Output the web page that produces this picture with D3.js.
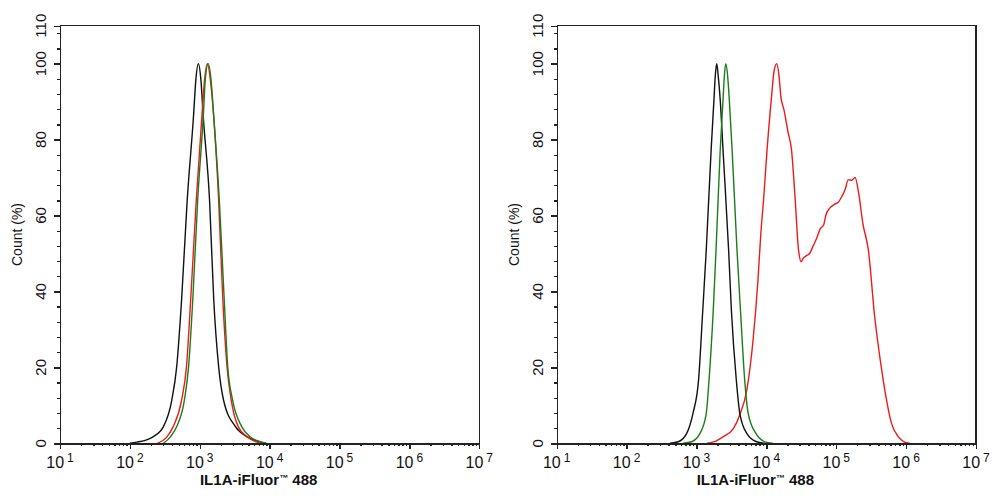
<!DOCTYPE html>
<html>
<head>
<meta charset="utf-8">
<script src="https://cdn.jsdelivr.net/npm/d3@7"></script>
<style>
  body { margin: 0; background: #fff; }
  svg  { display: block; font-family: 'Liberation Sans', Arial, sans-serif; }
  .axis path, .axis line { stroke: #222; stroke-width: 1.4; shape-rendering: crispEdges; }
</style>
</head>
<body>
<div id="graph"></div>
<script>
// Histogram values: log10 of intensity, and count in %
var leftBlackLog  = [ 2.00, 2.10, 2.24, 2.33, 2.48, 2.60, 2.67, 2.74, 2.82, 2.91, 2.945, 2.98, 3.015, 3.05, 3.14, 3.20, 3.27, 3.34, 3.51, 3.68, 3.87, 3.95 ];
var leftBlackPct  = [ 0,    0.3,  0.9,  1.7,  4.4,  11.4, 20.2, 37.8, 64,   86,   96,    100,  96,    86,   64,   37.8, 20.2, 11.4, 4.4,  1.7,  0.3,  0 ];

var leftRedLog    = [ 2.39, 2.53, 2.62, 2.74, 2.81, 2.87, 2.95, 3.03, 3.07, 3.11, 3.15, 3.20, 3.27, 3.33, 3.39, 3.45, 3.55, 3.68, 3.82, 3.89 ];
var leftRedPct    = [ 0,    1.7,  4.4,  11.4, 20.2, 37.8, 64,   86,   96,   100,  96,   86,   64,   37.8, 20.2, 11.4, 4.4,  1.7,  0.3,  0 ];

var leftGreenLog  = [ 2.48, 2.58, 2.67, 2.78, 2.84, 2.90, 2.97, 3.05, 3.08, 3.12, 3.16, 3.20, 3.28, 3.35, 3.40, 3.47, 3.60, 3.72, 3.89, 3.95 ];
var leftGreenPct  = [ 0,    1.7,  4.4,  11.4, 20.2, 37.8, 64,   86,   96,   100,  96,   86,   64,   37.8, 20.2, 11.4, 4.4,  1.7,  0.3,  0 ];

var rightBlackLog = [ 2.62, 2.74, 2.86, 2.95, 3.03, 3.09, 3.14, 3.21, 3.25, 3.27, 3.29, 3.31, 3.34, 3.38, 3.46, 3.50, 3.57, 3.62, 3.72, 3.86, 3.98 ];
var rightBlackPct = [ 0,    0.4,  2.6,  7.9,  16.7, 35,   50.9, 77.3, 90.4, 97,   100,  97,   90.4, 77.3, 50.9, 35,   16.7, 7.9,  2.6,  0.4,  0 ];

var rightGreenLog = [ 2.81, 2.93, 3.05, 3.14, 3.18, 3.24, 3.28, 3.34, 3.38, 3.40, 3.42, 3.445, 3.47, 3.51, 3.58, 3.63, 3.69, 3.74, 3.85, 3.98, 4.09 ];
var rightGreenPct = [ 0,    0.4,  2.6,  7.9,  16.7, 35,   50.9, 77.3, 90.4, 97,   100,  97,    90.4, 77.3, 50.9, 35,   16.7, 7.9,  2.6,  0.4,  0 ];

var rightRedLog   = [ 3.15, 3.27, 3.38, 3.53, 3.62, 3.72, 3.81, 3.88, 3.92, 3.96, 4.01, 4.07, 4.11, 4.15, 4.18, 4.21, 4.25, 4.31, 4.36, 4.41,
                      4.46, 4.50, 4.52, 4.58, 4.62, 4.67, 4.72, 4.77, 4.82, 4.85, 4.91, 4.98, 5.03, 5.08, 5.13, 5.17, 5.22, 5.27, 5.32, 5.38,
                      5.46, 5.55, 5.63, 5.72, 5.79, 5.89, 5.97, 6.05 ];
var rightRedPct   = [ 0,    0.5,  1.7,  3.9,  7.5,  14,   27.2, 43,   55,   64.1, 77.3, 90.4, 98,   100,  97,   91,   88,   82,   77.3, 65,
                      51,   47.8, 48.5, 49.5, 50,   52,   54,   56.5, 57.5, 60,   62,   63,   63.5, 65,   67,   69.4, 69.3, 70,   66,   58,
                      50.9, 33.4, 21.9, 11.4, 5.3,  1.7,  0.4,  0 ];

var yMajorTicks = [ 0, 20, 40, 60, 80, 100, 110 ];
var xExponents  = [ 1, 2, 3, 4, 5, 6, 7 ];

var xTitle = [ 'IL1A-iFluor', '™', ' 488' ];
var yTitle = 'Count  (%)';

var colours = { black: '#111111', red: '#ee1a1a', green: '#1a7d1a' };

function D3App ()
{
    var svgWidth  = 994;
    var svgHeight = 501;

    // panel placement
    var panels = [
        { left: 60,    series: [ [leftBlackLog,  leftBlackPct,  colours.black],
                                 [leftRedLog,    leftRedPct,    colours.red],
                                 [leftGreenLog,  leftGreenPct,  colours.green] ] },
        { left: 556.7, series: [ [rightRedLog,   rightRedPct,   colours.red],
                                 [rightBlackLog, rightBlackPct, colours.black],
                                 [rightGreenLog, rightGreenPct, colours.green] ] }
    ];

    var top    = 25.7;
    var width  = 419.3;
    var height = 417.6;

    var svg = d3.select ('#graph').append ('svg')
                .attr ('width', svgWidth)
                .attr ('height', svgHeight);

    var xScale = d3.scaleLog ()
                   .domain ( [ 10, 1e7 ] )
                   .range ( [ 0, width ] );

    var yScale = d3.scaleLinear ()
                   .domain ( [ 0, 110 ] )
                   .range ( [ height, 0 ] );

    // minor ticks
    var xMinor = [ ];
    for (var e = 1; e < 7; e++)
        for (var m = 2; m < 10; m++)
            xMinor.push (m * Math.pow (10, e));

    var yMinor = [ ];
    for (var v = 4; v < 110; v += 4)
        if (v % 20 != 0) yMinor.push (v);

    panels.forEach (function (p)
    {
        var g = svg.append ('g')
                   .attr ('transform', 'translate(' + p.left + ',' + top + ')');

        // frame top and right
        g.append ('path')
         .attr ('d', 'M0,0H' + width + 'V' + height)
         .attr ('fill', 'none')
         .attr ('stroke', '#222')
         .attr ('stroke-width', 1.4)
         .attr ('shape-rendering', 'crispEdges');

        // curves
        var line = d3.line ()
                     .x (function (d) { return xScale (Math.pow (10, d[0])); })
                     .y (function (d) { return yScale (d[1]); })
                     .curve (d3.curveMonotoneX);

        p.series.forEach (function (s)
        {
            var pts = s[0].map (function (x, i) { return [ x, s[1][i] ]; });
            g.append ('path')
             .datum (pts)
             .attr ('d', line)
             .attr ('fill', 'none')
             .attr ('stroke', s[2])
             .attr ('stroke-width', 1.4);
        });

        // x axis
        g.append ('g')
         .attr ('class', 'axis')
         .attr ('transform', 'translate(0,' + height + ')')
         .call (d3.axisBottom (xScale).tickValues (xMinor).tickSize (3).tickSizeOuter (0).tickFormat (''));

        g.append ('g')
         .attr ('class', 'axis')
         .attr ('transform', 'translate(0,' + height + ')')
         .call (d3.axisBottom (xScale).tickValues (xExponents.map (function (e) { return Math.pow (10, e); }))
                  .tickSize (6).tickSizeOuter (0).tickFormat (''));

        xExponents.forEach (function (e)
        {
            var t = g.append ('text')
                     .attr ('x', xScale (Math.pow (10, e)))
                     .attr ('y', height + 25)
                     .attr ('text-anchor', 'middle')
                     .attr ('font-size', '16px')
                     .attr ('fill', '#111');
            t.append ('tspan').text ('10');
            t.append ('tspan')
             .attr ('dx', 3)
             .attr ('dy', -6)
             .attr ('font-size', '12px')
             .text (e);
        });

        // y axis
        g.append ('g')
         .attr ('class', 'axis')
         .call (d3.axisLeft (yScale).tickValues (yMinor).tickSize (3).tickSizeOuter (0).tickFormat (''));

        g.append ('g')
         .attr ('class', 'axis')
         .call (d3.axisLeft (yScale).tickValues (yMajorTicks).tickSize (6).tickSizeOuter (0).tickFormat (''));

        yMajorTicks.forEach (function (v)
        {
            g.append ('text')
             .attr ('transform', 'translate(-14,' + yScale (v) + ') rotate(-90)')
             .attr ('text-anchor', 'middle')
             .attr ('font-size', '15px')
             .attr ('fill', '#111')
             .text (v);
        });

        // titles
        var xt = g.append ('text')
                  .attr ('x', width / 2 - 11)
                  .attr ('y', height + 42)
                  .attr ('text-anchor', 'middle')
                  .attr ('font-size', '15px')
                  .attr ('font-weight', 'bold')
                  .attr ('fill', '#111');
        xt.append ('tspan').text (xTitle[0]);
        xt.append ('tspan').attr ('dy', -4).attr ('font-size', '9px').text (xTitle[1]);
        xt.append ('tspan').attr ('dy', 4).text (xTitle[2]);

        g.append ('text')
         .attr ('transform', 'translate(-38,' + (height / 2) + ') rotate(-90)')
         .attr ('text-anchor', 'middle')
         .attr ('font-size', '14px')
         .attr ('fill', '#111')
         .text (yTitle);
    });
}

D3App ();
</script>
</body>
</html>
